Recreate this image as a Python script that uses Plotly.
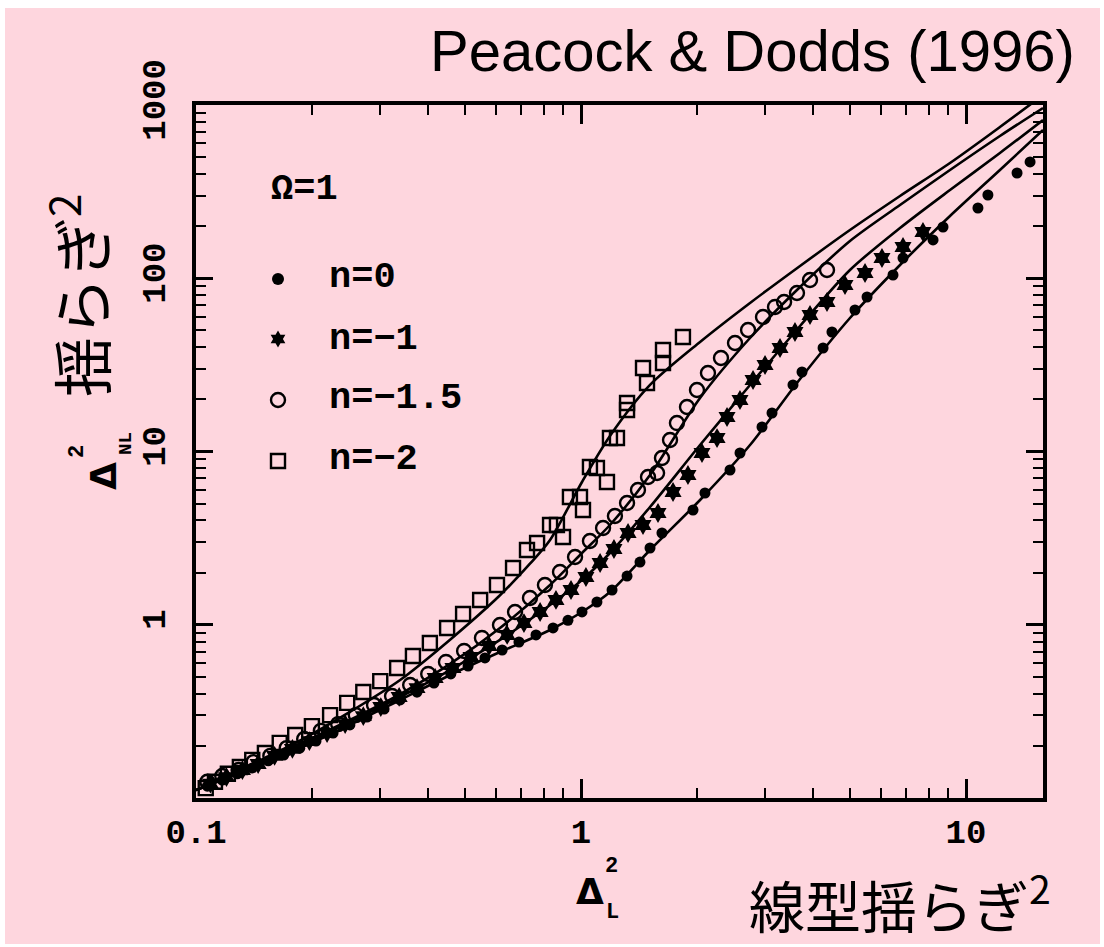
import math
import plotly.graph_objects as go

# ---------------------------------------------------------------
# Nonlinear vs linear power (Delta^2), Omega = 1 simulations
# ---------------------------------------------------------------

# Fitting-formula curves, one per spectral index n
fit_x = [0.100, 0.138, 0.186, 0.251, 0.339, 0.457, 0.616, 0.831, 1.006, 1.189,
         1.511, 2.038, 2.748, 3.706, 4.996, 6.739, 9.087, 12.25, 15.85]
fit_n0 = [0.111, 0.147, 0.194, 0.264, 0.368, 0.513, 0.696, 0.933, 1.185, 1.545,
          2.701, 5.250, 10.90, 26.21, 58.96, 119.3, 228.7, 421.5, 717.4]
fit_n1 = [0.111, 0.149, 0.200, 0.275, 0.383, 0.548, 0.817, 1.300, 1.813, 2.595,
          4.783, 10.90, 24.21, 53.03, 111.6, 195.0, 323.1, 528.3, 819.4]
fit_n15 = [0.111, 0.151, 0.205, 0.282, 0.398, 0.594, 0.958, 1.696, 2.595, 3.765,
           7.317, 20.36, 45.20, 89.00, 164.1, 264.8, 421.5, 662.3, 960.9]
fit2_x = [0.100, 0.138, 0.186, 0.251, 0.339, 0.457, 0.616, 0.737, 0.831, 1.006,
          1.189, 1.511, 2.038, 2.748, 3.706, 4.996, 6.739, 9.087, 12.25, 15.85]
fit_n2 = [0.111, 0.154, 0.214, 0.314, 0.480, 0.820, 1.480, 2.250, 3.085, 6.668,
          12.29, 24.21, 42.86, 71.97, 117.7, 189.9, 298.4, 462.6, 746.4, 1142]

# Simulation points: n = 0 (filled dots)
n0_x = [0.107, 0.117, 0.128, 0.140, 0.154, 0.169, 0.186, 0.205, 0.227, 0.251,
        0.278, 0.308, 0.339, 0.375, 0.415, 0.459, 0.509, 0.563, 0.624, 0.690,
        0.764, 0.846, 0.925, 1.006, 1.100, 1.204, 1.317, 1.423, 1.511, 1.623,
        1.954, 2.099, 2.438, 2.588, 2.952, 3.134, 3.553, 3.750, 4.253, 4.486,
        5.148, 5.533, 6.462, 6.861, 8.211, 8.716, 10.74, 11.40, 13.57, 14.67]
n0_y = [0.117, 0.127, 0.138, 0.149, 0.164, 0.177, 0.194, 0.213, 0.237, 0.264,
        0.293, 0.326, 0.368, 0.409, 0.461, 0.520, 0.578, 0.643, 0.715, 0.795,
        0.873, 0.958, 1.060, 1.185, 1.353, 1.587, 1.911, 2.302, 2.773, 3.385,
        4.596, 5.761, 7.819, 9.802, 13.85, 16.68, 24.21, 28.77, 39.57, 48.95,
        65.57, 77.95, 104.4, 130.9, 166.3, 197.6, 254.4, 302.4, 405.1, 469.0]

# n = -1 (stars)
n1_x = [0.109, 0.120, 0.132, 0.145, 0.160, 0.178, 0.197, 0.219, 0.244, 0.272,
        0.302, 0.337, 0.375, 0.418, 0.465, 0.518, 0.577, 0.643, 0.711, 0.783,
        0.861, 0.942, 1.030, 1.121, 1.218, 1.325, 1.449, 1.585, 1.734, 1.896,
        2.062, 2.256, 2.395, 2.588, 2.798, 3.006, 3.288, 3.596, 3.934, 4.355,
        4.850, 5.467, 6.050, 6.861, 7.731]
n1_y = [0.121, 0.132, 0.145, 0.157, 0.175, 0.192, 0.213, 0.237, 0.267, 0.297,
        0.335, 0.383, 0.431, 0.493, 0.563, 0.652, 0.754, 0.873, 1.023, 1.185,
        1.390, 1.587, 1.886, 2.272, 2.737, 3.385, 3.765, 4.416, 5.837, 7.317,
        9.802, 11.96, 15.82, 19.83, 25.87, 31.57, 39.57, 48.95, 61.37, 72.94,
        91.42, 107.2, 130.9, 151.5, 184.9]

# n = -1.5 (open circles)
n15_x = [0.107, 0.117, 0.129, 0.141, 0.156, 0.172, 0.191, 0.211, 0.234, 0.260,
         0.290, 0.323, 0.360, 0.401, 0.446, 0.497, 0.553, 0.616, 0.674, 0.737,
         0.806, 0.882, 0.965, 1.055, 1.141, 1.225, 1.317, 1.406, 1.493, 1.576,
         1.623, 1.703, 1.775, 1.885, 2.001, 2.137, 2.310, 2.512, 2.716, 2.970,
         3.191, 3.369, 3.639, 3.934, 4.355]
n15_y = [0.124, 0.134, 0.145, 0.161, 0.175, 0.194, 0.219, 0.244, 0.267, 0.301,
         0.344, 0.388, 0.449, 0.520, 0.610, 0.706, 0.839, 0.997, 1.185, 1.427,
         1.696, 2.016, 2.461, 3.044, 3.617, 4.244, 5.044, 5.995, 7.125, 7.514,
         9.173, 11.65, 14.60, 18.07, 22.65, 28.39, 34.65, 42.30, 50.26, 59.75,
         68.27, 72.94, 82.19, 97.70, 111.6]

# n = -2 (open squares)
n2_x = [0.106, 0.112, 0.121, 0.130, 0.140, 0.151, 0.165, 0.181, 0.200, 0.223,
        0.247, 0.272, 0.301, 0.333, 0.366, 0.405, 0.449, 0.494, 0.547, 0.605,
        0.666, 0.724, 0.769, 0.831, 0.866, 0.898, 0.936, 0.994, 1.012, 1.055,
        1.100, 1.168, 1.189, 1.240, 1.317, 1.317, 1.449, 1.484, 1.633, 1.633,
        1.840]
n2_y = [0.114, 0.124, 0.138, 0.151, 0.166, 0.182, 0.208, 0.231, 0.260, 0.301,
        0.354, 0.409, 0.473, 0.563, 0.660, 0.785, 0.958, 1.154, 1.390, 1.696,
        2.126, 2.701, 2.964, 3.765, 3.765, 3.210, 5.463, 5.463, 4.596, 8.140,
        8.034, 6.668, 11.96, 11.96, 19.05, 17.36, 30.34, 24.86, 38.53, 32.42,
        45.81]

x_tick_vals = [0.1, 1, 10]
x_tick_text = ["0.1", "1", "10"]
y_tick_vals = [1, 10, 100, 1000]
y_tick_text = ["1", "10", "100", "1000"]
minor_vals = [0.2, 0.3, 0.4, 0.5, 0.6, 0.7, 0.8, 0.9,
              2, 3, 4, 5, 6, 7, 8, 9, 20, 30, 40, 50, 60, 70, 80, 90,
              200, 300, 400, 500, 600, 700, 800, 900]

legend_labels = ["n=0", "n=\u22121", "n=\u22121.5", "n=\u22122"]

# ---------------------------------------------------------------
W, H = 1104, 947
L, R, T, B = 196, 1043, 105, 798
PINK = "#fed6de"
INK = "black"


def fx(px):
    return (px - L) / (R - L)


def fy(py):
    return (B - py) / (B - T)


fig = go.Figure()

line_style = dict(color=INK, width=2.6, shape="spline", smoothing=0.8)
for xs, ys in [(fit_x, fit_n0), (fit_x, fit_n1), (fit_x, fit_n15), (fit2_x, fit_n2)]:
    fig.add_trace(go.Scatter(x=xs, y=ys, mode="lines", line=line_style,
                             showlegend=False, hoverinfo="skip"))

fig.add_trace(go.Scatter(x=n0_x, y=n0_y, mode="markers", showlegend=False,
                         marker=dict(symbol="circle", size=11, color=INK)))
fig.add_trace(go.Scatter(x=n1_x, y=n1_y, mode="markers", showlegend=False,
                         marker=dict(symbol="hexagram", size=15, color=INK)))
fig.add_trace(go.Scatter(x=n15_x, y=n15_y, mode="markers", showlegend=False,
                         marker=dict(symbol="circle-open", size=14, color=INK,
                                     line=dict(width=2.4, color=INK))))
fig.add_trace(go.Scatter(x=n2_x, y=n2_y, mode="markers", showlegend=False,
                         marker=dict(symbol="square-open", size=14, color=INK,
                                     line=dict(width=2.4, color=INK))))

tick_font = dict(family="Liberation Mono", size=34, color=INK, weight="bold")
axis_common = dict(
    type="log", showgrid=False, zeroline=False,
    showline=True, linewidth=3.5, linecolor=INK, mirror="ticks",
    ticks="inside", tickwidth=2.5, tickcolor=INK,
    tickfont=tick_font,
)
fig.update_xaxes(**axis_common, range=[-1, 1.2], tickvals=x_tick_vals,
                 ticktext=x_tick_text, ticklen=19, ticklabelstandoff=0,
                 minor=dict(ticks="inside", ticklen=10, tickwidth=2,
                            tickcolor=INK, tickvals=minor_vals))
fig.update_yaxes(**axis_common, range=[-1, 3], tickvals=y_tick_vals,
                 ticktext=y_tick_text, ticklen=17, tickangle=-90,
                 ticklabelstandoff=14,
                 minor=dict(ticks="inside", ticklen=10, tickwidth=2,
                            tickcolor=INK, tickvals=minor_vals))

annotations = []
shapes = []

# page background panel
shapes.append(dict(type="rect", xref="paper", yref="paper", layer="below",
                   x0=fx(5), x1=fx(1100), y0=fy(944), y1=fy(8),
                   fillcolor=PINK, line=dict(width=0)))


def note(text, px, py, size, family="Liberation Mono", weight="bold",
         xanchor="center", angle=0, pad=1):
    annotations.append(dict(text=text, x=fx(px), y=fy(py), xref="paper",
                            yref="paper", showarrow=False, xanchor=xanchor,
                            yanchor="middle", textangle=angle, borderpad=pad,
                            font=dict(family=family, size=size, color=INK,
                                      weight=weight)))


# heading
note("Peacock &amp; Dodds (1996)", 1077, 50, 58, family="Liberation Sans",
     weight="normal", xanchor="right")
# Japanese axis titles
note("線型揺らぎ<sup>2</sup>", 900, 901, 56, family="Noto Sans CJK JP",
     weight="normal")
note("揺らぎ<sup>2</sup>", 77, 296, 60, family="Noto Sans CJK JP",
     weight="normal", angle=-90)
# Delta symbols on the axes: letter with stacked super/subscript
note("\u0394", 590, 891, 36, family="DejaVu Sans", pad=0)
note("2", 611, 866, 22, pad=0)
note("L", 612, 912, 22, pad=0)
note("\u0394", 103, 476, 36, family="DejaVu Sans", angle=-90, pad=0)
note("2", 78, 452, 22, angle=-90, pad=0)
note("NL", 126, 444, 19, angle=-90, pad=0)

# in-plot key
note("\u03a9=1", 269, 189, 37, xanchor="left")
key_rows = [277, 339, 398, 459]
for label, row in zip(legend_labels, key_rows):
    note(label, 327, row, 37, xanchor="left")

key_x = fx(278)


def key_shape(kind, py, **style):
    base = dict(xref="paper", yref="paper", xsizemode="pixel",
                ysizemode="pixel", xanchor=key_x, yanchor=fy(py))
    base.update(style)
    base["type"] = kind
    shapes.append(base)


key_shape("circle", 279, x0=-6, x1=6, y0=-6, y1=6,
          fillcolor=INK, line=dict(width=0))
# six-pointed star
pts = []
for k in range(12):
    ang = math.pi / 2 + k * math.pi / 6
    rad = 8.5 if k % 2 == 0 else 4.9
    pts.append(f"{rad * math.cos(ang):.2f},{rad * math.sin(ang):.2f}")
key_shape("path", 339, path="M" + " L".join(pts) + " Z",
          fillcolor=INK, line=dict(width=0))
key_shape("circle", 400, x0=-7, x1=7, y0=-7, y1=7,
          line=dict(color=INK, width=2.4))
key_shape("rect", 461, x0=-7, x1=7, y0=-7, y1=7,
          line=dict(color=INK, width=2.4))

fig.update_layout(
    width=W, height=H, autosize=False,
    margin=dict(l=L, r=W - R, t=T, b=H - B, pad=0),
    paper_bgcolor="white", plot_bgcolor=PINK,
    annotations=annotations, shapes=shapes,
    showlegend=False,
)

fig.write_html("out.html")
